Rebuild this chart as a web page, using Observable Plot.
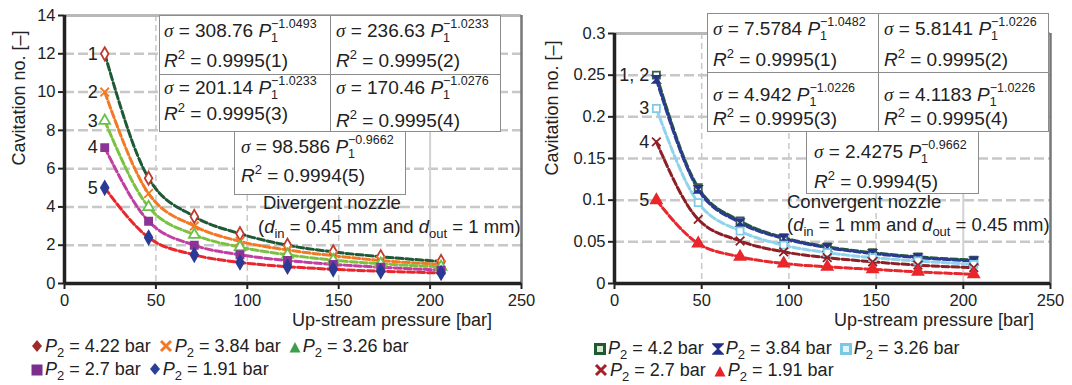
<!DOCTYPE html>
<html><head><meta charset="utf-8">
<script src="https://cdn.jsdelivr.net/npm/d3@7"></script>
<script src="https://cdn.jsdelivr.net/npm/@observablehq/plot@0.6"></script>
<style>
body{margin:0;background:#fff;}
#wrap{position:relative;width:1072px;height:385px;overflow:hidden;font-family:"Liberation Sans",Arial,sans-serif;color:#222;}
.panel{position:absolute;top:0;}
.cell{position:absolute;background:#fff;border:1.5px solid #8c8c8c;box-sizing:border-box;}
.ln{position:absolute;white-space:nowrap;font-size:19px;line-height:22px;height:22px;}
.sg{font-family:"Liberation Serif",serif;font-style:italic;}
.it{font-style:italic;}
.sb1{font-size:12.5px;vertical-align:-5px;line-height:0;}
.sp1{font-size:12.5px;vertical-align:9px;line-height:0;margin-left:-7px;}
.sup2{font-size:13px;vertical-align:8px;line-height:0;}
.sub{font-size:13px;vertical-align:-5px;line-height:0;}
.note{position:absolute;white-space:nowrap;font-size:18.5px;line-height:22px;}
.atitle{position:absolute;white-space:nowrap;font-size:18px;line-height:22px;}
.ytitle{position:absolute;white-space:nowrap;font-size:18px;line-height:22px;transform:translate(-50%,-50%) rotate(-90deg);}
.leg{position:absolute;white-space:nowrap;font-size:18px;line-height:22px;}
.li{display:inline-block;margin-right:8px;}
.li svg{margin-right:2px;vertical-align:-1px;}
</style></head>
<body><div id="wrap"></div>
<script>
// ---------- data ----------
const seriesIds = ["1", "2", "3", "4", "5"];
// Divergent nozzle (left)
const divPressures = ["4.22", "3.84", "3.26", "2.7", "1.91"];
const divX  = [22, 46, 71, 96, 122, 147, 173, 206];
const divS1 = [12.0, 5.5, 3.5, 2.6, 2.0, 1.65, 1.4, 1.15];
const divS2 = [10.0, 4.7, 3.0, 2.2, 1.75, 1.45, 1.2, 1.0];
const divS3 = [8.5, 4.0, 2.55, 1.9, 1.5, 1.22, 1.03, 0.87];
const divS4 = [7.1, 3.25, 2.0, 1.5, 1.2, 1.0, 0.85, 0.7];
const divS5 = [5.0, 2.4, 1.5, 1.1, 0.88, 0.74, 0.64, 0.55];
const divLabels = ["1", "2", "3", "4", "5"];
const divYTicks = [0, 2, 4, 6, 8, 10, 12, 14];
// Convergent nozzle (right)
const convPressures = ["4.2", "3.84", "3.26", "2.7", "1.91"];
const convX  = [24, 48, 72, 97, 122, 148, 174, 206];
const convS1 = [0.25, 0.115, 0.075, 0.055, 0.044, 0.037, 0.032, 0.028];
const convS2 = [0.245, 0.113, 0.073, 0.054, 0.043, 0.036, 0.031, 0.027];
const convS3 = [0.21, 0.097, 0.063, 0.046, 0.037, 0.031, 0.027, 0.023];
const convS4 = [0.17, 0.077, 0.051, 0.038, 0.031, 0.026, 0.022, 0.019];
const convS5 = [0.1, 0.048, 0.032, 0.024, 0.02, 0.017, 0.014, 0.011];
const convLabels = ["1, 2", "", "3", "4", "5"];
const convYTicks = [0, 0.05, 0.1, 0.15, 0.2, 0.25, 0.3];
const xTicks = [0, 50, 100, 150, 200, 250];
// fit equations
const divFits = [["308.76","−1.0493","1"],["236.63","−1.0233","2"],["201.14","−1.0233","3"],["170.46","−1.0276","4"],["98.586","−0.9662","5"]];
const convFits = [["7.5784","−1.0482","1"],["5.8141","−1.0226","2"],["4.942","−1.0226","3"],["4.1183","−1.0226","4"],["2.4275","−0.9662","5"]];

const hourglass = {draw(ctx, size){const r = Math.sqrt(size)/2; ctx.moveTo(-r,-r); ctx.lineTo(r,-r); ctx.lineTo(-r,r); ctx.lineTo(r,r); ctx.closePath();}};

const divStyle = [
  {line:"#1f5a36", symbol:"diamond", fill:"white", stroke:"#c23a2e"},
  {line:"#f27a25", symbol:"times", fill:"none", stroke:"#f27a25"},
  {line:"#7cc242", symbol:"triangle", fill:"white", stroke:"#6cc04a"},
  {line:"#c23ea0", symbol:"square", fill:"#8a3596", stroke:"#8a3596"},
  {line:"#e8262b", symbol:"diamond", fill:"#2b3a96", stroke:"#2b3a96"}
];
const convStyle = [
  {line:"#1f5a36", symbol:"square", fill:"white", stroke:"#3b5c48"},
  {line:"#2b3a92", symbol:hourglass, fill:"#26348a", stroke:"#26348a"},
  {line:"#8fd3ec", symbol:"square", fill:"white", stroke:"#7fcbe6"},
  {line:"#8e1f26", symbol:"times", fill:"none", stroke:"#8e1f26"},
  {line:"#e8262b", symbol:"triangle", fill:"#e8262b", stroke:"#e8262b"}
];

function makePanel(xs, seriesList, labels, styles, yDomain, yTicks, opt){
  const marks = [];
  marks.push(Plot.gridY(yTicks.slice(1, -1), {stroke:"#c8c8c8", strokeOpacity:1, strokeWidth:2.5, strokeDasharray:"10,4"}));
  marks.push(Plot.gridX([50, 100, 150], {stroke:"#c8c8c8", strokeOpacity:1, strokeWidth:1.5, strokeDasharray:"6,4"}));
  marks.push(Plot.gridX([200], {stroke:"#d2d2d2", strokeOpacity:1, strokeWidth:2}));
  marks.push(Plot.ruleY([yDomain[1]], {stroke:"#b8b8b8", strokeWidth:3}));
  marks.push(Plot.ruleX([250], {stroke:"#777", strokeWidth:2.5}));
  seriesList.forEach((ys, i) => {
    const rows = xs.map((x, j) => ({x, y: ys[j]}));
    marks.push(Plot.line(rows, {x:"x", y:"y", stroke:styles[i].line, strokeWidth:3, strokeDasharray:"7,3", curve:"monotone-x"}));
  });
  seriesList.forEach((ys, i) => {
    const rows = xs.map((x, j) => ({x, y: ys[j]}));
    marks.push(Plot.dot(rows, {x:"x", y:"y", symbol:styles[i].symbol, r:4, fill:styles[i].fill, stroke:styles[i].stroke, strokeWidth:1.8}));
  });
  const lab = seriesList.map((ys, i) => ({x: xs[0], y: ys[0], t: labels[i]})).filter(d => d.t);
  marks.push(Plot.text(lab, {x:"x", y:"y", text:"t", textAnchor:"end", dx:-7, fontSize:18, fill:"#222"}));
  marks.push(Plot.axisY({ticks:yTicks, tickFormat:d => String(d), tickSize:6, tickPadding:3, fontSize:16.5, strokeWidth:2, label:null}));
  marks.push(Plot.axisX({ticks:xTicks, tickFormat:d => String(d), tickSize:6, tickPadding:5, fontSize:16.5, strokeWidth:2, label:null}));
  marks.push(Plot.ruleX([0], {stroke:"#222", strokeWidth:3.5}));
  marks.push(Plot.ruleY([0], {stroke:"#222", strokeWidth:3.5}));
  return Plot.plot({
    width:opt.width, height:opt.height,
    marginLeft:opt.ml, marginRight:opt.mr, marginTop:opt.mt, marginBottom:opt.mb,
    x:{domain:[0,250]}, y:{domain:yDomain},
    style:{fontFamily:"Liberation Sans, Arial, sans-serif", color:"#222", background:"white", overflow:"visible"},
    marks
  });
}

const wrap = document.getElementById("wrap");
const left = makePanel(divX, [divS1, divS2, divS3, divS4, divS5], divLabels, divStyle, [0,14], divYTicks,
  {width:536, height:330, ml:64, mr:15, mt:15, mb:47});
left.classList.add("panel"); left.style.left = "0px";
wrap.appendChild(left);
const right = makePanel(convX, [convS1, convS2, convS3, convS4, convS5], convLabels, convStyle, [0,0.3], convYTicks,
  {width:536, height:330, ml:78, mr:22, mt:33, mb:47});
right.classList.add("panel"); right.style.left = "536px";
wrap.appendChild(right);

function add(html, cls, css){
  const d = document.createElement("div");
  d.className = cls; d.innerHTML = html; Object.assign(d.style, css); wrap.appendChild(d); return d;
}
function cell(x0, y0, x1, y1){ add("", "cell", {left:x0+"px", top:y0+"px", width:(x1-x0)+"px", height:(y1-y0)+"px"}); }
function fitText(f, x, yc1, yc2){
  add(`<span class="sg">σ</span> = ${f[0]} <span class="it">P</span><span class="sb1">1</span><span class="sp1">${f[1]}</span>`, "ln", {left:x+"px", top:(yc1-11)+"px"});
  add(`<span class="it">R</span><span class="sup2">2</span> = 0.999${f[2]==="5"?"4":"5"}(${f[2]})`, "ln", {left:x+"px", top:(yc2-11)+"px"});
}
// left boxes
cell(159,15,331,75); cell(330,15,501,75); cell(159,74,331,132); cell(330,74,501,132); cell(234,131,406,195);
fitText(divFits[0],164,31,61); fitText(divFits[1],336,31,61);
fitText(divFits[2],164,88,114); fitText(divFits[3],336,88,121);
fitText(divFits[4],241,147,176);
// right boxes
cell(707,13,879,73); cell(878,13,1049,73); cell(707,72,879,132); cell(878,72,1049,132); cell(806,131,979,194);
fitText(convFits[0],713,29,60); fitText(convFits[1],884,29,60);
fitText(convFits[2],713,95,119); fitText(convFits[3],884,95,119);
fitText(convFits[4],814,152,182);

add("Divergent nozzle", "note", {left:"263px", top:(203-11)+"px"});
add(`(<span class="it">d</span><span class="sub">in</span> = 0.45 mm and <span class="it">d</span><span class="sub">out</span> = 1 mm)`, "note", {left:"258px", top:(227-11)+"px"});
add("Convergent nozzle", "note", {left:"787px", top:(202-11)+"px"});
add(`(<span class="it">d</span><span class="sub">in</span> = 1 mm and <span class="it">d</span><span class="sub">out</span> = 0.45 mm)`, "note", {left:"787px", top:(225-11)+"px"});

add("Up-stream pressure [bar]", "atitle", {left:"292px", top:(320-11)+"px"});
add("Up-stream pressure [bar]", "atitle", {left:"834px", top:(320-11)+"px"});
add("Cavitation no. [–]", "ytitle", {left:"19px", top:"98px"});
add("Cavitation no. [–]", "ytitle", {left:"552px", top:"108px"});

// legend
const sw = {
  dia:(c)=>`<svg width="12" height="14"><path d="M6 1L11 7L6 13L1 7Z" fill="${c}"/></svg>`,
  x:(c)=>`<svg width="14" height="14"><path d="M2 2L12 12M12 2L2 12" stroke="${c}" stroke-width="3"/></svg>`,
  tri:(c)=>`<svg width="12" height="12"><path d="M6 1L11.5 11.5L0.5 11.5Z" fill="${c}"/></svg>`,
  sq:(c)=>`<svg width="12" height="12"><rect x="0.5" y="0.5" width="11" height="11" fill="${c}"/></svg>`,
  sqo:(c,f)=>`<svg width="12" height="12"><rect x="1.5" y="1.5" width="9" height="9" fill="${f}" stroke="${c}" stroke-width="3"/></svg>`,
  hg:(c)=>`<svg width="12" height="12"><path d="M1 1L11 1L1 11L11 11Z" fill="${c}" stroke="${c}" stroke-width="1.5"/></svg>`
};
function legItem(sym, p){ return `<span class="li">${sym}<span class="it">P</span><span class="sub">2</span> = ${p} bar</span>`; }
add(legItem(sw.dia("#9c2b2c"), divPressures[0]) + legItem(sw.x("#f07a2a"), divPressures[1]) + legItem(sw.tri("#3d9f4c"), divPressures[2]), "leg", {left:"31px", top:(346-11)+"px"});
add(legItem(sw.sq("#7a2f8c"), divPressures[3]) + legItem(sw.dia("#2a3f96"), divPressures[4]), "leg", {left:"31px", top:(369-11)+"px"});
add(legItem(sw.sqo("#1f5a32","#d6e8cf"), convPressures[0]) + legItem(sw.hg("#22308a"), convPressures[1]) + legItem(sw.sqo("#79c8e6","#e3f4fb"), convPressures[2]), "leg", {left:"594px", top:(348-11)+"px"});
add(legItem(sw.x("#a3202a"), convPressures[3]) + legItem(sw.tri("#e8242a"), convPressures[4]), "leg", {left:"594px", top:(370-11)+"px"});
</script>
</body></html>
